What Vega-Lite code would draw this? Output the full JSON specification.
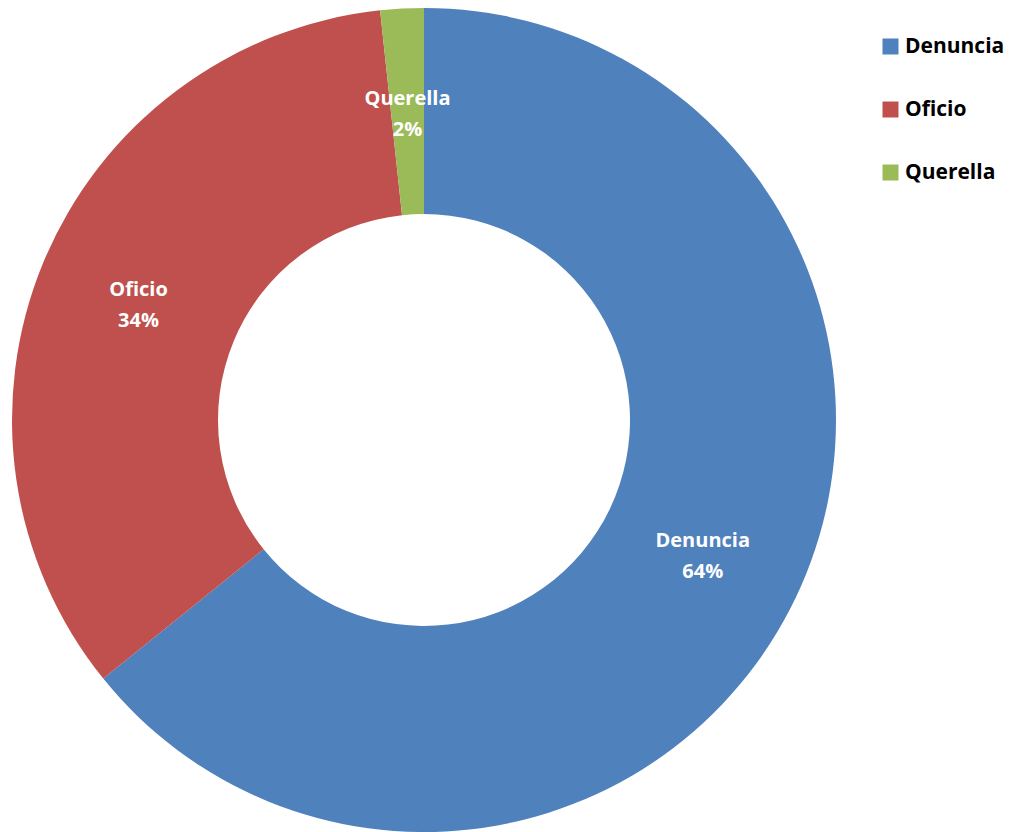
{
  "$schema": "https://vega.github.io/schema/vega-lite/v6.json",
  "width": 848,
  "height": 840,
  "autosize": "none",
  "padding": {"left": 0, "top": 0, "right": 170, "bottom": 0},
  "background": "white",
  "config": {"view": {"stroke": null}},
  "data": {
    "values": [
      {"cat": "Denuncia", "valor": 64.2, "orden": 1},
      {"cat": "Oficio", "valor": 34.1, "orden": 2},
      {"cat": "Querella", "valor": 1.7, "orden": 3}
    ]
  },
  "encoding": {
    "theta": {"field": "valor", "type": "quantitative", "stack": true},
    "order": {"field": "orden", "type": "quantitative"}
  },
  "layer": [
    {
      "mark": {"type": "arc", "innerRadius": 206, "outerRadius": 412},
      "encoding": {
        "color": {
          "field": "cat",
          "type": "nominal",
          "scale": {"domain": ["Denuncia", "Oficio", "Querella"], "range": ["#4F81BD", "#C0504D", "#9BBB59"]},
          "legend": {
            "title": null,
            "orient": "none",
            "legendX": 880,
            "legendY": 36,
            "symbolType": "square",
            "symbolSize": 256,
            "symbolStrokeWidth": 0,
            "labelFont": "Open Sans",
            "labelFontWeight": "bold",
            "labelFontSize": 21,
            "labelColor": "black",
            "labelOffset": 4,
            "rowPadding": 41
          }
        }
      }
    },
    {
      "transform": [
        {"calculate": "[datum.cat, format(datum.valor / 100, '.0%')]", "as": "label"}
      ],
      "mark": {
        "type": "text",
        "radius": 309,
        "font": "Open Sans",
        "fontWeight": "bold",
        "fontSize": 20,
        "fill": "white",
        "lineHeight": 31,
        "align": "center",
        "baseline": "middle",
        "dy": -12
      },
      "encoding": {
        "detail": {"field": "cat", "type": "nominal"},
        "text": {"field": "label"}
      }
    }
  ]
}
